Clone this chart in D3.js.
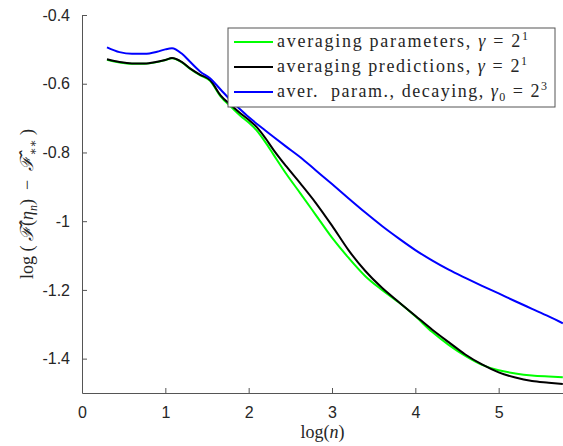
<!DOCTYPE html>
<html>
<head>
<meta charset="utf-8">
<script src="https://cdn.jsdelivr.net/npm/d3@7"></script>
<style>
  body { margin: 0; background: #fff; }
  .tick text { font-family: "Liberation Sans", Arial, sans-serif; font-size: 16px; fill: #262626; }
</style>
</head>
<body>
<div id="chart"></div>
<script>
// values
var logN = [0.3, 0.45, 0.6, 0.75, 0.9, 1.0, 1.08, 1.2, 1.3, 1.42, 1.54, 1.66, 1.8, 1.9, 2.0, 2.1, 2.2, 2.3, 2.45, 2.62, 2.8, 3.0, 3.2, 3.4, 3.6, 3.8, 4.0, 4.2, 4.4, 4.6, 4.8, 5.0, 5.2, 5.4, 5.6, 5.77];

var avgParams = [-0.530, -0.538, -0.542, -0.542, -0.537, -0.531, -0.526, -0.538, -0.557, -0.576, -0.592, -0.636, -0.670, -0.693, -0.713, -0.737, -0.770, -0.807, -0.862, -0.919, -0.980, -1.048, -1.107, -1.160, -1.200, -1.236, -1.277, -1.322, -1.360, -1.392, -1.418, -1.434, -1.443, -1.449, -1.452, -1.454];

var avgPreds = [-0.529, -0.537, -0.541, -0.541, -0.536, -0.531, -0.525, -0.537, -0.556, -0.574, -0.590, -0.633, -0.665, -0.686, -0.705, -0.727, -0.758, -0.793, -0.840, -0.890, -0.945, -1.013, -1.085, -1.145, -1.194, -1.235, -1.275, -1.315, -1.352, -1.388, -1.417, -1.440, -1.455, -1.465, -1.470, -1.474];

var avgDecay = [-0.494, -0.508, -0.513, -0.513, -0.507, -0.500, -0.497, -0.513, -0.537, -0.565, -0.585, -0.616, -0.652, -0.675, -0.697, -0.717, -0.736, -0.755, -0.783, -0.814, -0.851, -0.892, -0.934, -0.975, -1.014, -1.050, -1.084, -1.114, -1.141, -1.165, -1.188, -1.210, -1.233, -1.255, -1.277, -1.297];

var xTicks = [0, 1, 2, 3, 4, 5];
var yTicks = [-1.4, -1.2, -1, -0.8, -0.6, -0.4];

var series = [
  {name: "params", values: avgParams, color: "#00ff00"},
  {name: "preds", values: avgPreds, color: "#000000"},
  {name: "decay", values: avgDecay, color: "#0000ff"}
];

var serifFont = "'Liberation Serif', 'DejaVu Serif', serif";

var svgWidth = 563;
var svgHeight = 446;
var margin = {top: 15, right: 0, bottom: 53, left: 82};
var width = svgWidth - margin.left - margin.right;
var height = svgHeight - margin.top - margin.bottom;

var svg = d3.select("#chart")
  .append("svg")
  .attr("width", svgWidth)
  .attr("height", svgHeight);

var chartGroup = svg.append("g")
  .attr("transform", `translate(${margin.left}, ${margin.top})`);

var x = d3.scaleLinear().domain([0, 5.772]).range([0, width]);
var y = d3.scaleLinear().domain([-1.5, -0.4]).range([height, 0]);

// axes, ticks point inward like matlab
var bottomAxis = d3.axisBottom(x).tickValues(xTicks).tickSizeInner(-5).tickSizeOuter(0).tickPadding(14).tickFormat(d3.format("d"));
var leftAxis = d3.axisLeft(y).tickValues(yTicks).tickSizeInner(-5).tickSizeOuter(0).tickPadding(12).tickFormat(d => String(+d.toFixed(1)));

var gx = chartGroup.append("g")
  .attr("transform", `translate(0, ${height})`)
  .call(bottomAxis);
var gy = chartGroup.append("g").call(leftAxis);
[gx, gy].forEach(function(g) {
  g.select(".domain").attr("stroke", "#555");
  g.selectAll(".tick line").attr("stroke", "#555");
});

// lines
var line = d3.line()
  .x((d, i) => x(logN[i]))
  .y(d => y(d))
  .curve(d3.curveMonotoneX);

chartGroup.selectAll(".series")
  .data(series)
  .enter()
  .append("path")
  .attr("d", d => line(d.values))
  .attr("fill", "none")
  .attr("stroke", d => d.color)
  .attr("stroke-width", 2);

// legend
var legend = svg.append("g").attr("transform", "translate(228, 28)");
legend.append("rect")
  .attr("width", 327).attr("height", 79)
  .attr("fill", "#fff").attr("stroke", "#555").attr("stroke-width", 1);

var legendText = [
  {main: "averaging parameters, ", sym: "γ", sub: "", exp: "1", len: 251},
  {main: "averaging predictions, ", sym: "γ", sub: "", exp: "1", len: 250},
  {main: "aver.  param., decaying, ", sym: "γ", sub: "0", exp: "3", len: 270}
];

legendText.forEach(function(t, i) {
  var yy = 14 + i * 25;
  legend.append("line")
    .attr("x1", 6).attr("x2", 45).attr("y1", yy).attr("y2", yy)
    .attr("stroke", series[i].color).attr("stroke-width", 2);
  var txt = legend.append("text")
    .attr("font-family", serifFont)
    .attr("fill", "#262626")
    .attr("x", 49).attr("y", yy + 5)
    .attr("font-size", 18)
    .attr("textLength", t.len)
    .attr("lengthAdjust", "spacing")
    .style("white-space", "pre");
  txt.append("tspan").text(t.main);
  txt.append("tspan").attr("font-style", "italic").text(t.sym);
  if (t.sub) txt.append("tspan").attr("dy", 4).attr("font-size", 12).text(t.sub);
  txt.append("tspan").attr("dy", t.sub ? -4 : 0).text(" = 2");
  txt.append("tspan").attr("dy", -7).attr("font-size", 12).text(t.exp);
});

// axis labels
var xl = svg.append("text")
  .attr("font-family", serifFont)
  .attr("fill", "#262626")
  .attr("x", margin.left + width / 2)
  .attr("y", 438)
  .attr("text-anchor", "middle")
  .attr("font-size", 18);
xl.append("tspan").text("log(");
xl.append("tspan").attr("font-style", "italic").text("n");
xl.append("tspan").text(")");

var yl = svg.append("text")
  .attr("font-family", serifFont)
  .attr("fill", "#262626")
  .attr("transform", `translate(33, ${margin.top + height / 2}) rotate(-90)`)
  .attr("text-anchor", "middle")
  .attr("font-size", 18)
  .style("white-space", "pre");
yl.append("tspan").text("log ( ");
yl.append("tspan").attr("font-style", "italic").text("ℱ\u0302");
yl.append("tspan").text("(");
yl.append("tspan").attr("font-style", "italic").text("η");
yl.append("tspan").attr("dy", 4).attr("font-size", 12).attr("font-style", "italic").text("n");
yl.append("tspan").attr("dy", -4).text(")  −  ");
yl.append("tspan").attr("font-style", "italic").text("ℱ\u0302");
yl.append("tspan").attr("dy", 4).attr("font-size", 12).text("∗∗");
yl.append("tspan").attr("dy", -4).text(" )");
</script>
</body>
</html>
